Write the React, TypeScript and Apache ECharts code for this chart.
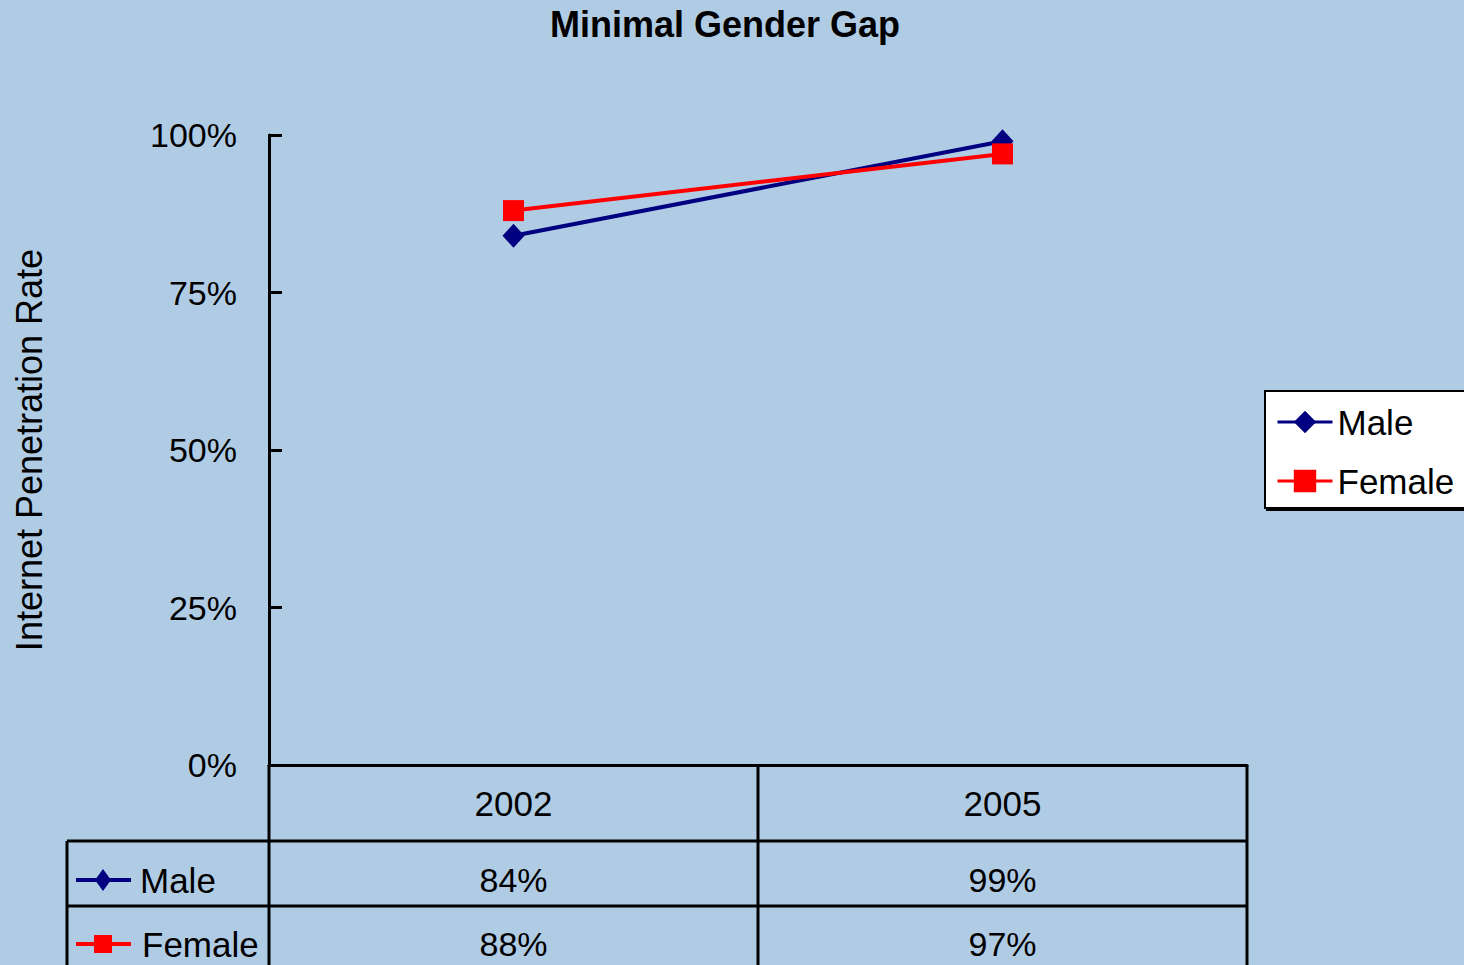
import React, { useEffect, useRef } from 'react';
import * as echarts from 'echarts';

const chartTitle = 'Minimal Gender Gap';
const yAxisName = 'Internet Penetration Rate';
const categories = ['2002', '2005'];
const maleValues = [84, 99];
const femaleValues = [88, 97];
const seriesNames = ['Male', 'Female'];
const seriesColors = ['#000080', '#ff0000'];
const yMin = 0;
const yMax = 100;
const yInterval = 25;

const FONT = '"Liberation Sans", Arial, sans-serif';
const BG = '#b0cce4';

export default function App() {
  const ref = useRef<HTMLDivElement>(null);

  useEffect(() => {
    if (!ref.current) return;
    const chart = echarts.init(ref.current, null, { renderer: 'svg' });

    const W = 1464;
    const H = 965;
    const gridL = 269;
    const gridR = 1247;
    const gridT = 135;
    const gridB = 765;
    const cw = (gridR - gridL) / categories.length;
    const row1 = 841;
    const row2 = 906;
    const tableLeft = 67;
    const tableBottom = 975;
    const lineStyle = { stroke: '#000', lineWidth: 3 };

    const allValues = [maleValues, femaleValues];
    const symbols = ['diamond', 'rect'];
    const rowTextY = [880, 944];

    const graphic: any[] = [];
    // table lines
    graphic.push({ type: 'line', shape: { x1: gridL, y1: gridB, x2: gridL, y2: tableBottom }, style: lineStyle, silent: true });
    for (let i = 1; i <= categories.length; i++) {
      const x = gridL + i * cw;
      graphic.push({ type: 'line', shape: { x1: x, y1: gridB, x2: x, y2: tableBottom }, style: lineStyle, silent: true });
    }
    [row1, row2].forEach((y) => {
      graphic.push({ type: 'line', shape: { x1: tableLeft, y1: y, x2: gridR, y2: y }, style: lineStyle, silent: true });
    });
    graphic.push({ type: 'line', shape: { x1: tableLeft, y1: row1, x2: tableLeft, y2: tableBottom }, style: lineStyle, silent: true });

    // table rows
    seriesNames.forEach((name, si) => {
      const y = rowTextY[si];
      const color = seriesColors[si];
      graphic.push({ type: 'line', shape: { x1: 76, y1: y, x2: 131, y2: y }, style: { stroke: color, lineWidth: 4 }, silent: true });
      if (symbols[si] === 'diamond') {
        graphic.push({
          type: 'polygon',
          shape: { points: [[103, y - 11], [111, y], [103, y + 11], [95, y]] },
          style: { fill: color },
          silent: true,
        });
      } else {
        graphic.push({ type: 'rect', shape: { x: 94, y: y - 9, width: 18, height: 18 }, style: { fill: color }, silent: true });
      }
      graphic.push({
        type: 'text',
        x: si === 0 ? 140 : 142,
        y,
        style: { text: name, fill: '#000', font: `35px ${FONT}`, textAlign: 'left', textVerticalAlign: 'middle' },
        silent: true,
      });
      allValues[si].forEach((v, ci) => {
        graphic.push({
          type: 'text',
          x: gridL + (ci + 0.5) * cw,
          y,
          style: { text: `${v}%`, fill: '#000', font: `34px ${FONT}`, textAlign: 'center', textVerticalAlign: 'middle' },
          silent: true,
        });
      });
    });

    chart.setOption({
      animation: false,
      backgroundColor: BG,
      title: {
        text: chartTitle,
        left: 545,
        top: 1,
        textStyle: { fontFamily: FONT, fontSize: 36, fontWeight: 'bold', color: '#000' },
      },
      legend: {
        orient: 'vertical',
        left: 1265,
        top: 391,
        padding: [13, 30, 9, 11],
        itemGap: 23,
        itemWidth: 55,
        itemHeight: 28,
        backgroundColor: '#fff',
        borderColor: '#000',
        borderWidth: 2,
        shadowColor: '#000',
        shadowOffsetX: 2,
        shadowOffsetY: 2,
        shadowBlur: 0,
        lineStyle: { width: 3 },
        textStyle: { fontFamily: FONT, fontSize: 35, color: '#000', lineHeight: 36 },
        data: seriesNames,
      },
      grid: {
        left: gridL,
        right: W - gridR,
        top: gridT,
        bottom: H - gridB,
        containLabel: false,
        outerBoundsMode: 'none',
      },
      xAxis: {
        type: 'category',
        data: categories,
        boundaryGap: true,
        axisLine: { show: true, lineStyle: { color: '#000', width: 3 } },
        axisTick: { show: false },
        axisLabel: { margin: 21, fontFamily: FONT, fontSize: 35, color: '#000' },
        splitLine: { show: false },
      },
      yAxis: {
        type: 'value',
        min: yMin,
        max: yMax,
        interval: yInterval,
        name: yAxisName,
        nameLocation: 'middle',
        nameRotate: 90,
        nameGap: 222,
        nameTextStyle: { fontFamily: FONT, fontSize: 36, color: '#000' },
        axisLine: { show: true, lineStyle: { color: '#000', width: 3 } },
        axisTick: { show: true, inside: true, length: 13, lineStyle: { color: '#000', width: 3 } },
        axisLabel: { margin: 32, fontFamily: FONT, fontSize: 34, color: '#000', formatter: '{value}%' },
        splitLine: { show: false },
      },
      series: [
        {
          name: seriesNames[0],
          type: 'line',
          data: maleValues,
          symbol: 'diamond',
          symbolSize: [22, 24],
          itemStyle: { color: seriesColors[0] },
          lineStyle: { color: seriesColors[0], width: 4 },
          z: 2,
        },
        {
          name: seriesNames[1],
          type: 'line',
          data: femaleValues,
          symbol: 'rect',
          symbolSize: 21,
          itemStyle: { color: seriesColors[1] },
          lineStyle: { color: seriesColors[1], width: 4 },
          z: 3,
        },
      ],
      graphic,
    });

    return () => chart.dispose();
  }, []);

  return (
    <div
      ref={ref}
      style={{ position: 'absolute', left: 0, top: 0, width: 1464, height: 965, background: BG }}
    />
  );
}
